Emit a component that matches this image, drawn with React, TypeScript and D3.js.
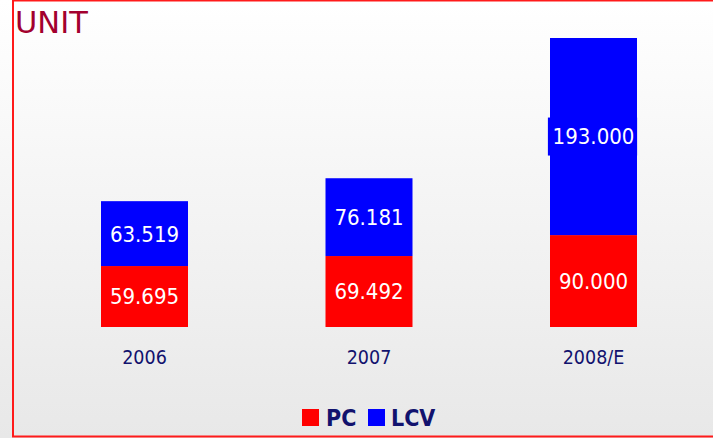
import {useEffect, useRef} from "react";
import * as d3 from "d3";

// values in thousands of units
const years = ["2006", "2007", "2008/E"];
const pcValues = [59.695, 69.492, 90.0];
const lcvValues = [63.519, 76.181, 193.0];
const seriesNames = ["PC", "LCV"];
const seriesColors = ["#ff0000", "#0000ff"];

const width = 713, height = 438;

function App() {
    const ref = useRef<SVGSVGElement>(null);

    useEffect(() => {
        const svg = d3.select(ref.current);
        svg.selectAll("*").remove();

        // background gradient
        const defs = svg.append("defs");
        const grad = defs.append("linearGradient")
            .attr("id", "bg").attr("x1", 0).attr("y1", 0).attr("x2", 0).attr("y2", 1);
        grad.append("stop").attr("offset", "0%").attr("stop-color", "#ffffff");
        grad.append("stop").attr("offset", "100%").attr("stop-color", "#e8e8e8");
        svg.append("rect").attr("width", width).attr("height", height).attr("fill", "url(#bg)");

        // frame
        svg.append("rect")
            .attr("x", 13).attr("y", 0.5)
            .attr("width", width).attr("height", 436)
            .attr("fill", "none").attr("stroke", "#ff1a1a").attr("stroke-width", 2);

        svg.append("text")
            .attr("x", 15).attr("y", 33)
            .attr("font-family", "DejaVu Sans")
            .attr("font-size", 30.5)
            .attr("fill", "#a3002e")
            .text("UNIT");

        const x = d3.scaleBand()
            .domain(years)
            .range([32.25, 705.75])
            .paddingInner(0.6125)
            .paddingOuter(0.30625);

        const y = d3.scaleLinear()
            .domain([0, 283])
            .range([327, 38]);

        const rows = years.map((yr, i) => ({year: yr, PC: pcValues[i], LCV: lcvValues[i]}));
        const stacked = d3.stack<any>().keys(seriesNames)(rows);
        const fmt = d3.format(".3f");

        stacked.forEach((layer, li) => {
            const g = svg.append("g");
            layer.forEach((d, i) => {
                const bx = x(years[i])!;
                const top = y(d[1]), bot = y(d[0]);
                g.append("rect")
                    .attr("x", bx).attr("y", top)
                    .attr("width", x.bandwidth()).attr("height", bot - top)
                    .attr("fill", seriesColors[li]);

                const label = fmt(d[1] - d[0]);
                const cx = bx + x.bandwidth() / 2, cy = (top + bot) / 2;
                // label box (only shows when wider than the bar)
                const bw = label.length * 11.6 + 8;
                g.append("rect")
                    .attr("x", cx - bw / 2 - 1).attr("y", cy - 19)
                    .attr("width", bw).attr("height", 38)
                    .attr("fill", seriesColors[li]);
                g.append("text")
                    .attr("x", cx).attr("y", cy)
                    .attr("dy", "0.36em")
                    .attr("text-anchor", "middle")
                    .attr("font-family", "DejaVu Sans Condensed")
                    .attr("font-size", 22)
                    .attr("fill", "#ffffff")
                    .text(label);
            });
        });

        // category labels
        svg.append("g")
            .attr("transform", "translate(0,327)")
            .call(d3.axisBottom(x).tickSize(0).tickPadding(0))
            .call(g => g.select(".domain").remove())
            .selectAll("text")
            .attr("dy", null)
            .attr("y", 37)
            .attr("font-family", "DejaVu Sans Condensed")
            .attr("font-size", 19.5)
            .attr("fill", "#12126e");

        // legend
        const legend = svg.append("g").attr("transform", "translate(302,409)");
        const items = [{name: "PC", x: 0, tx: 24}, {name: "LCV", x: 66, tx: 89}];
        items.forEach((it, i) => {
            legend.append("rect")
                .attr("x", it.x).attr("y", 0).attr("width", 17).attr("height", 17)
                .attr("fill", seriesColors[i]);
            legend.append("text")
                .attr("x", it.tx).attr("y", 8.5).attr("dy", "0.36em")
                .attr("font-family", "DejaVu Sans Condensed")
                .attr("font-weight", "bold")
                .attr("font-size", 23)
                .attr("fill", "#12126e")
                .text(it.name);
        });
    }, []);

    return (
        <svg ref={ref} width={width} height={height}
             style={{position: "absolute", left: 0, top: 0, display: "block"}}/>
    );
}

export default App;
